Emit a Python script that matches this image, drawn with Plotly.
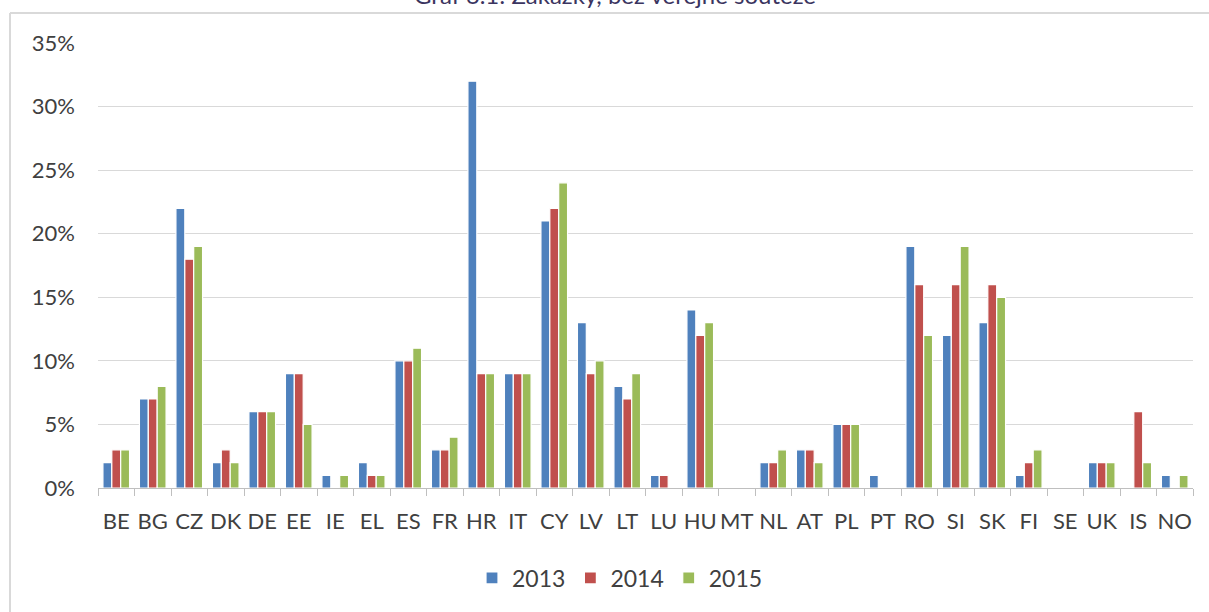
import plotly.graph_objects as go

countries = ["BE", "BG", "CZ", "DK", "DE", "EE", "IE", "EL", "ES", "FR", "HR", "IT", "CY", "LV", "LT",
             "LU", "HU", "MT", "NL", "AT", "PL", "PT", "RO", "SI", "SK", "FI", "SE", "UK", "IS", "NO"]
v2013 = [2, 7, 22, 2, 6, 9, 1, 2, 10, 3, 32, 9, 21, 13, 8, 1, 14, 0, 2, 3, 5, 1, 19, 12, 13, 1, 0, 2, 0, 1]
v2014 = [3, 7, 18, 3, 6, 9, 0, 1, 10, 3, 9, 9, 22, 9, 7, 1, 12, 0, 2, 3, 5, 0, 16, 16, 16, 2, 0, 2, 6, 0]
v2015 = [3, 8, 19, 2, 6, 5, 1, 1, 11, 4, 9, 9, 24, 10, 9, 0, 13, 0, 3, 2, 5, 0, 12, 19, 15, 3, 0, 2, 2, 1]
years = ["2013", "2014", "2015"]
colors = ["#4F81BD", "#C0504D", "#9BBB59"]
title_text = "Graf 6.1: Zakázky, bez veřejné soutěže"

W, H = 1209, 612
L, R, T, B = 98, 16, 43, 124
pw, ph = W - L - R, H - T - B

def px_x(x):
    return (x - L) / pw

def px_y(y):
    return (H - B - y) / ph

fig = go.Figure()
for name, vals, c in zip(years, [v2013, v2014, v2015], colors):
    fig.add_trace(go.Bar(
        x=countries, y=[v / 100 for v in vals], name=name,
        marker=dict(color=c, line=dict(color="white", width=1.2)),
    ))

fig.update_layout(
    width=W, height=H,
    margin=dict(l=L, r=R, t=T, b=B, autoexpand=False),
    paper_bgcolor="white", plot_bgcolor="white",
    barmode="group", bargap=0.27, bargroupgap=0.0,
    font=dict(family="Lato, 'Liberation Sans', sans-serif", color="#404040"),
    showlegend=True,
    legend=dict(orientation="h", x=px_x(620), xanchor="center", y=px_y(578), yanchor="middle",
                font=dict(size=23, color="#404040"), traceorder="normal",
                itemwidth=30),
    xaxis=dict(
        type="category", tickson="boundaries", ticks="outside", ticklen=7,
        tickcolor="#bfbfbf", showline=True, linecolor="#bfbfbf", linewidth=1,
        tickfont=dict(size=22, color="#404040"), showgrid=False,
        tickangle=0, automargin=False, ticklabelstandoff=14,
    ),
    yaxis=dict(
        range=[0, 0.35], dtick=0.05, tickformat=".0%", showgrid=True,
        gridcolor="#d9d9d9", gridwidth=1, zeroline=False, showline=False,
        tickfont=dict(size=22, color="#404040"), ticks="", ticklabelstandoff=22,
        automargin=False,
    ),
    shapes=[
        dict(type="line", xref="paper", yref="paper", x0=px_x(10), x1=px_x(1209),
             y0=px_y(13), y1=px_y(13), line=dict(color="#d9d9d9", width=2)),
        dict(type="line", xref="paper", yref="paper", x0=px_x(10), x1=px_x(10),
             y0=px_y(13), y1=px_y(612), line=dict(color="#d9d9d9", width=2)),
    ],
    annotations=[
        dict(text=title_text, xref="paper", yref="paper", x=px_x(615), y=px_y(11),
             xanchor="center", yanchor="bottom", showarrow=False,
             font=dict(size=24, color="#3a3460")),
    ],
)

fig.write_html("out.html", config={"displayModeBar": False},
               post_script="document.body.style.margin='0';document.body.style.overflow='hidden';")
